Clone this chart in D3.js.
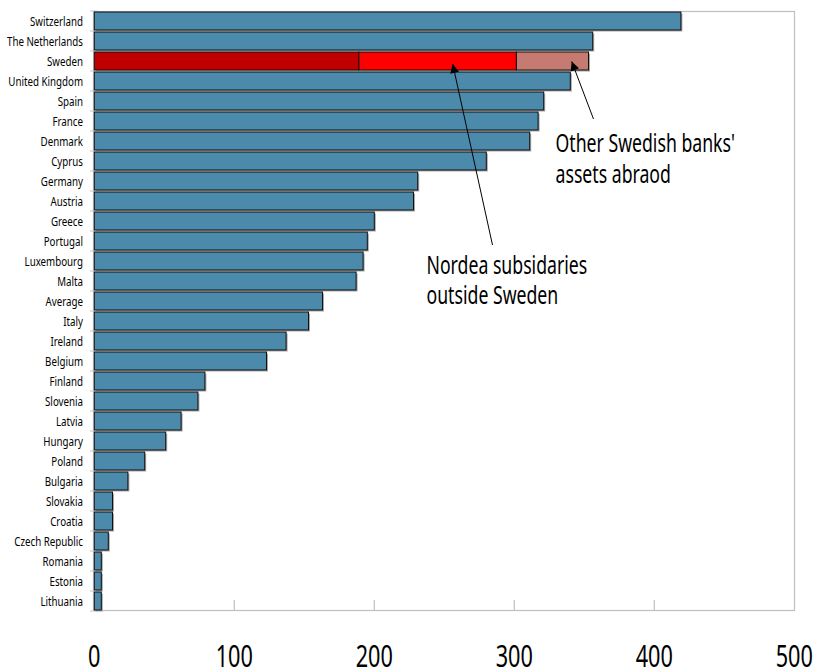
<!DOCTYPE html>
<html>
<head>
<meta charset="utf-8">
<script src="https://cdn.jsdelivr.net/npm/d3@7"></script>
<style>
  html, body { margin: 0; padding: 0; background: #fff; }
  svg { display: block; }
  text { font-family: "Noto Sans", "Open Sans", sans-serif; fill: #000; }
</style>
</head>
<body>
<svg id="chart" width="817" height="670"></svg>
<script>
// ---- Data ----
const categories = ["Switzerland","The Netherlands","Sweden","United Kingdom","Spain","France","Denmark","Cyprus","Germany","Austria","Greece","Portugal","Luxembourg","Malta","Average","Italy","Ireland","Belgium","Finland","Slovenia","Latvia","Hungary","Poland","Bulgaria","Slovakia","Croatia","Czech Republic","Romania","Estonia","Lithuania"];
const values = [419, 356, null, 340, 321, 317, 311, 280, 231, 228, 200, 195, 192, 187, 163, 153, 137, 123, 79, 74, 62, 51, 36, 24, 13, 13, 10, 5, 5, 5];
const swedenCategory = "Sweden";
const swedenParts = [189, 112.5, 51.5];
const swedenPartNames = ["Nordea in Sweden", "Nordea subsidaries outside Sweden", "Other Swedish banks' assets abraod"];
const xTicks = [0, 100, 200, 300, 400, 500];
const annotationLines = [["Nordea subsidaries", "outside Sweden"], ["Other Swedish banks'", "assets abraod"]];
const annotationTargets = [256, 341];

// ---- Layout ----
const svg = d3.select("#chart");
const mLeft = 94.3, mRight = 794.3, mTop = 11, mBottom = 611;
const x = d3.scaleLinear().domain([0, 500]).range([mLeft, mRight]);
const y = d3.scaleBand().domain(categories).range([mTop, mBottom]).paddingInner(0.1).paddingOuter(0.05);
const blue = "#4b8aab";
const swedenColors = ["#c00000", "#ff0000", "#c57b72"];

function sText(parent, px, py, str, size, sx, anchor) {
  const g = parent.append("g").attr("transform", `translate(${px},${py}) scale(${sx},1)`);
  g.append("text").attr("text-anchor", anchor).style("font-size", size + "px").text(str);
  return g;
}

// Frame
svg.append("rect").attr("x", 93.5).attr("y", 11.5).attr("width", 701).attr("height", 599)
  .attr("fill", "none").attr("stroke", "#bfbfbf").attr("stroke-width", 1.2);

// Bottom ticks (inward)
svg.append("g").selectAll("line").data(xTicks.slice(1, -1)).join("line")
  .attr("x1", d => x(d)).attr("x2", d => x(d)).attr("y1", 600).attr("y2", 610.5)
  .attr("stroke", "#bfbfbf").attr("stroke-width", 1.2);

// Left category ticks at band boundaries
const step = y.step();
svg.append("g").selectAll("line").data(d3.range(categories.length + 1)).join("line")
  .attr("x1", 90).attr("x2", 97)
  .attr("y1", i => y.range()[0] + i * step).attr("y2", i => y.range()[0] + i * step)
  .attr("stroke", "#c8c8c8").attr("stroke-width", 1);

// Bar data
const bars = [];
categories.forEach((c, i) => {
  if (c === swedenCategory) {
    let acc = 0;
    swedenParts.forEach((v, j) => {
      bars.push({ c, x0: acc, x1: acc + v, color: swedenColors[j] });
      acc += v;
    });
  } else {
    bars.push({ c, x0: 0, x1: values[i], color: blue });
  }
});

// Shadows
svg.append("g").selectAll("rect").data(bars).join("rect")
  .attr("x", d => x(d.x0) + 1.5).attr("y", d => y(d.c) + 1.5)
  .attr("width", d => x(d.x1) - x(d.x0)).attr("height", y.bandwidth())
  .attr("fill", "#a6a6a6");

// Bars
svg.append("g").selectAll("rect").data(bars).join("rect")
  .attr("x", d => x(d.x0)).attr("y", d => y(d.c))
  .attr("width", d => x(d.x1) - x(d.x0)).attr("height", y.bandwidth())
  .attr("fill", d => d.color).attr("stroke", "#111").attr("stroke-width", 1);

// Category labels
const labG = svg.append("g");
categories.forEach(c => {
  sText(labG, 83, y(c) + y.bandwidth() / 2 + 5, c, 12.5, 0.78, "end");
});

// X tick labels
const tickG = svg.append("g");
xTicks.forEach(t => sText(tickG, x(t), 666.5, String(t), 31, 0.7, "middle"));

// Arrows
const defs = svg.append("defs");
defs.append("marker").attr("id", "arr").attr("viewBox", "0 0 10 10")
  .attr("refX", 10).attr("refY", 5).attr("markerWidth", 11).attr("markerHeight", 9)
  .attr("markerUnits", "userSpaceOnUse").attr("orient", "auto")
  .append("path").attr("d", "M0,0 L10,5 L0,10 Z").attr("fill", "#000");

const sy = y(swedenCategory) + y.bandwidth() / 2;
const tails = [[492.5, 245], [593.5, 119]];
const tips = [[x(annotationTargets[0]), sy + 3], [x(annotationTargets[1]), sy + 0.5]];
tails.forEach((t, i) => {
  svg.append("line").attr("x1", t[0]).attr("y1", t[1]).attr("x2", tips[i][0]).attr("y2", tips[i][1])
    .attr("stroke", "#000").attr("stroke-width", 1).attr("marker-end", "url(#arr)");
});

// Annotation texts
const annPos = [[426.5, 273.5, 30], [555.5, 152, 31]];
const annG = svg.append("g");
annotationLines.forEach((lines, i) => {
  lines.forEach((ln, k) => sText(annG, annPos[i][0], annPos[i][1] + k * annPos[i][2], ln, 26, 0.68, "start"));
});
</script>
</body>
</html>
